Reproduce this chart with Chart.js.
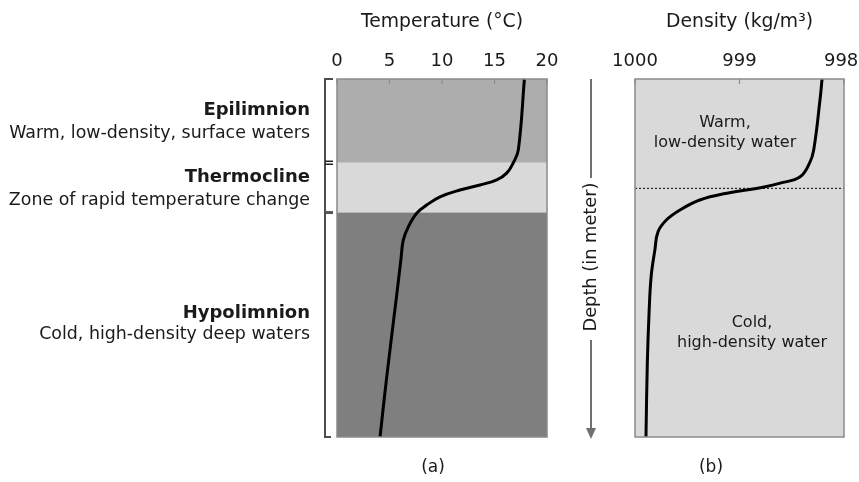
<!DOCTYPE html>
<html>
<head>
<meta charset="utf-8">
<script src="https://cdn.jsdelivr.net/npm/chart.js@4.4.1/dist/chart.umd.min.js"></script>
<style>
  html, body { margin: 0; padding: 0; background: #fff; }
  #wrap { position: relative; width: 859px; height: 482px; overflow: hidden; }
  canvas { position: absolute; top: 0; }
  #ca { left: 0; }
  #cb { left: 560px; }
</style>
</head>
<body>
<div id="wrap">
  <canvas id="ca" width="560" height="482"></canvas>
  <canvas id="cb" width="299" height="482"></canvas>
</div>
<script>
// ---- Data (depth in relative units, 0 = surface, 100 = bottom) ----
const tempDepth   = [0, 19.8, 23.4, 26.3, 28.2, 29.6, 31.0, 32.9, 35.2, 37.5, 41.3, 45.0, 50.6, 60.0, 84.1, 100];
const tempValues  = [17.85, 17.27, 16.79, 16.16, 15.21, 13.62, 11.71, 9.81, 8.54, 7.59, 6.79, 6.31, 6.08, 5.70, 4.70, 4.10];
const densDepth   = [0, 5.9, 19.8, 23.5, 27.3, 29.1, 30.4, 31.9, 33.8, 36.6, 39.4, 42.7, 47.8, 55.0, 65.0, 79.3, 100];
const densValues  = [998.21, 998.23, 998.29, 998.33, 998.42, 998.61, 998.80, 999.12, 999.38, 999.57, 999.70, 999.78, 999.81, 999.845, 999.865, 999.882, 999.895];
const tempTicks   = [0, 5, 10, 15, 20];
const densTicks   = [1000, 999, 998];
const layerTops   = [0, 23.4, 37.3];      // epilimnion, thermocline, hypolimnion
const layerBottoms= [23.4, 37.3, 100];
const layerColors = ['#adadad', '#d9d9d9', '#7f7f7f'];
const layerNames  = ['Epilimnion', 'Thermocline', 'Hypolimnion'];
const layerDescs  = ['Warm, low-density, surface waters', 'Zone of rapid temperature change', 'Cold, high-density deep waters'];
const thermoclineDepth = 30.4;

const FONT = "'DejaVu Sans', Verdana, sans-serif";
const TXT = '#1a1a1a';

function frameAndTicks(chart) {
  const ctx = chart.ctx, a = chart.chartArea, x = chart.scales.x;
  ctx.save();
  ctx.strokeStyle = '#8a8a8a';
  ctx.lineWidth = 1.5;
  ctx.strokeRect(a.left, a.top, a.right - a.left, a.bottom - a.top);
  ctx.lineWidth = 1.2;
  x.ticks.forEach(t => {
    const px = x.getPixelForValue(t.value);
    ctx.beginPath();
    ctx.moveTo(px, a.top);
    ctx.lineTo(px, a.top + 5);
    ctx.stroke();
  });
  ctx.restore();
}

const plugA = {
  id: 'plugA',
  beforeDatasetsDraw(chart) {
    const ctx = chart.ctx, a = chart.chartArea, y = chart.scales.y;
    ctx.save();
    layerTops.forEach((d, i) => {
      const y0 = y.getPixelForValue(d), y1 = y.getPixelForValue(layerBottoms[i]);
      ctx.fillStyle = layerColors[i];
      ctx.fillRect(a.left, y0, a.right - a.left, y1 - y0);
    });
    ctx.restore();
  },
  afterDatasetsDraw(chart) {
    frameAndTicks(chart);
    const ctx = chart.ctx, y = chart.scales.y;
    ctx.save();
    // brackets
    const bx = 325, bx2 = 333;
    ctx.strokeStyle = '#4d4d4d';
    ctx.lineWidth = 2;
    const yTop = y.getPixelForValue(0), yB1 = y.getPixelForValue(layerBottoms[0]), yB2 = y.getPixelForValue(layerBottoms[1]), yBot = y.getPixelForValue(100);
    ctx.beginPath();
    ctx.moveTo(bx2, yTop); ctx.lineTo(bx, yTop); ctx.lineTo(bx, yBot); ctx.lineTo(bx2 - 2, yBot);
    ctx.stroke();
    ctx.lineWidth = 1.5;
    ctx.strokeStyle = '#222';
    [yB1 - 1.5, yB1 + 1.5].forEach(v => { ctx.beginPath(); ctx.moveTo(bx, v); ctx.lineTo(bx2, v); ctx.stroke(); });
    ctx.strokeStyle = '#555';
    ctx.lineWidth = 3;
    ctx.beginPath(); ctx.moveTo(bx, yB2); ctx.lineTo(bx2, yB2); ctx.stroke();
    // labels
    ctx.fillStyle = TXT;
    ctx.textAlign = 'right';
    ctx.textBaseline = 'middle';
    const namesY = [110, 177, 313];
    const descY = [133, 200, 334];
    layerNames.forEach((n, i) => {
      ctx.font = "bold 18px " + FONT;
      ctx.fillText(n, 310, namesY[i]);
      ctx.font = "17.4px " + FONT;
      ctx.fillText(layerDescs[i], 310, descY[i]);
    });
    ctx.textAlign = 'center';
    ctx.font = "17px " + FONT;
    ctx.fillText('(a)', 433, 468);
    ctx.restore();
  }
};

const plugB = {
  id: 'plugB',
  beforeDatasetsDraw(chart) {
    const ctx = chart.ctx, a = chart.chartArea, y = chart.scales.y;
    ctx.save();
    ctx.fillStyle = '#d9d9d9';
    ctx.fillRect(a.left, a.top, a.right - a.left, a.bottom - a.top);
    const yd = y.getPixelForValue(thermoclineDepth);
    ctx.strokeStyle = '#000';
    ctx.lineWidth = 1;
    ctx.setLineDash([2, 2]);
    ctx.beginPath(); ctx.moveTo(a.left, yd + 0.5); ctx.lineTo(a.right, yd + 0.5); ctx.stroke();
    ctx.setLineDash([]);
    ctx.fillStyle = TXT;
    ctx.textAlign = 'center';
    ctx.textBaseline = 'middle';
    ctx.font = "16px " + FONT;
    ctx.fillText('Warm,', 165, 123);
    ctx.fillText('low-density water', 165, 143);
    ctx.fillText('Cold,', 192, 323);
    ctx.fillText('high-density water', 192, 343);
    ctx.restore();
  },
  afterDatasetsDraw(chart) {
    frameAndTicks(chart);
    const ctx = chart.ctx, y = chart.scales.y;
    ctx.save();
    // depth arrow
    const ax = 31;
    const yTop = y.getPixelForValue(0), yBot = y.getPixelForValue(100);
    ctx.strokeStyle = '#707070';
    ctx.fillStyle = '#707070';
    ctx.lineWidth = 2;
    ctx.beginPath(); ctx.moveTo(ax, yTop); ctx.lineTo(ax, 178); ctx.stroke();
    ctx.beginPath(); ctx.moveTo(ax, 340); ctx.lineTo(ax, yBot - 6); ctx.stroke();
    ctx.beginPath(); ctx.moveTo(ax - 5, yBot - 9); ctx.lineTo(ax + 5, yBot - 9); ctx.lineTo(ax, yBot + 2); ctx.closePath(); ctx.fill();
    ctx.save();
    ctx.translate(ax, 257);
    ctx.rotate(-Math.PI / 2);
    ctx.fillStyle = TXT;
    ctx.textAlign = 'center';
    ctx.textBaseline = 'middle';
    ctx.font = "17.8px " + FONT;
    ctx.fillText('Depth (in meter)', 0, 0);
    ctx.restore();
    ctx.fillStyle = TXT;
    ctx.textAlign = 'center';
    ctx.textBaseline = 'middle';
    ctx.font = "17px " + FONT;
    ctx.fillText('(b)', 151, 468);
    ctx.restore();
  }
};

function makeOpts(xcfg, pad) {
  return {
    responsive: false,
    animation: false,
    devicePixelRatio: 1,
    indexAxis: 'y',
    layout: { padding: pad },
    plugins: { legend: { display: false }, tooltip: { enabled: false } },
    elements: { point: { radius: 0 } },
    scales: {
      x: Object.assign({
        type: 'linear',
        position: 'top',
        grid: { display: false, drawTicks: false, drawOnChartArea: false },
        border: { display: false },
        afterFit: s => { s.height = 79; s.paddingLeft = 0; s.paddingRight = 0; }
      }, xcfg),
      y: { type: 'linear', min: 0, max: 100, reverse: true, display: false }
    }
  };
}

new Chart(document.getElementById('ca'), {
  type: 'line',
  data: {
    datasets: [{
      label: 'Temperature',
      data: tempDepth.map((d, i) => ({ x: tempValues[i], y: d })),
      borderColor: '#000', borderWidth: 3, fill: false,
      tension: 0.4, clip: 4
    }]
  },
  options: makeOpts({
    min: 0, max: 20,
    afterBuildTicks: s => { s.ticks = tempTicks.map(v => ({ value: v })); },
    ticks: { font: { family: FONT, size: 18 }, color: TXT, padding: 7, maxRotation: 0 },
    title: { display: true, text: 'Temperature (°C)', font: { family: FONT, size: 18.8 }, color: TXT, padding: { top: 11, bottom: 0 } }
  }, { left: 337, right: 13, top: 0, bottom: 45 }),
  plugins: [plugA]
});

new Chart(document.getElementById('cb'), {
  type: 'line',
  data: {
    datasets: [{
      label: 'Density',
      data: densDepth.map((d, i) => ({ x: densValues[i], y: d })),
      borderColor: '#000', borderWidth: 3, fill: false,
      tension: 0.4, clip: 4
    }]
  },
  options: makeOpts({
    min: 998, max: 1000, reverse: true,
    afterBuildTicks: s => { s.ticks = densTicks.map(v => ({ value: v })); },
    ticks: {
      font: { family: FONT, size: 18 },
      color: TXT, padding: 7, maxRotation: 0,
      // the right-most label sits slightly left of its tick in the original
      callback: v => Math.round(v) === 998 ? '998 ' : String(Math.round(v))
    },
    title: { display: true, text: 'Density (kg/m³)', font: { family: FONT, size: 18.8 }, color: TXT, padding: { top: 11, bottom: 0 } }
  }, { left: 75, right: 15, top: 0, bottom: 45 }),
  plugins: [plugB]
});
</script>
</body>
</html>
